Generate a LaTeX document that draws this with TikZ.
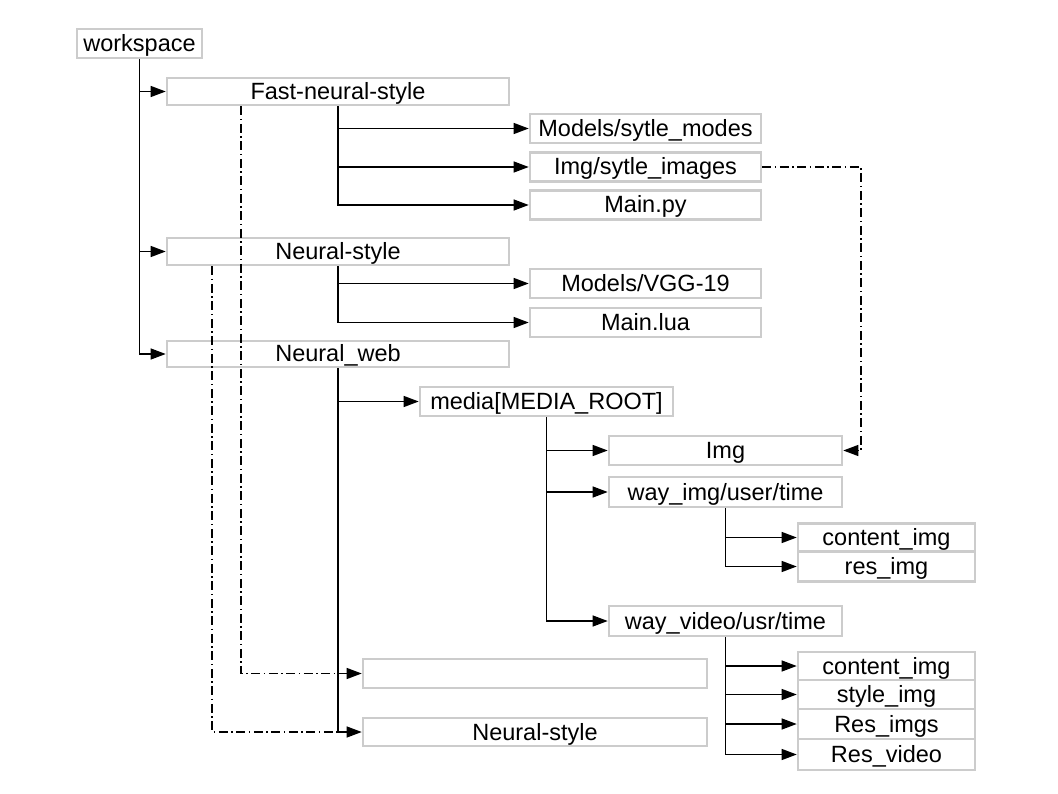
\documentclass[tikz,border=0pt]{standalone}
\usepackage{fontspec}
\setmainfont{Liberation Sans}
\usetikzlibrary{arrows.meta}
\begin{document}
\begin{tikzpicture}[x=1pt,y=-1pt,
  box/.style={draw=black!20, line width=2.6pt, fill=white, inner sep=0pt,
    text height=21pt, text depth=5pt,
    font=\fontsize{23.5}{28}\selectfont, text=black},
  conn/.style={draw=black, line width=1.2pt, -{Triangle[length=15pt,width=11pt]}},
  dd/.style={draw=black, line width=1.2pt, dash pattern=on 9pt off 3.5pt on 1.5pt off 3.5pt}]
\useasboundingbox (0,0) rectangle (1058,794);
\fill[white] (0,0) rectangle (1058,794);
% boxes
\node[box, minimum width=125pt, minimum height=29pt] (ws) at (139.5,43.5) {workspace};
\node[box, minimum width=342pt, minimum height=27pt] (fns) at (338,91.5) {Fast-neural-style};
\node[box, minimum width=231pt, minimum height=29pt] (mm) at (645.5,128.5) {Models/sytle\_modes};
\node[box, minimum width=231pt, minimum height=29pt] (imgs) at (645.5,167) {Img/sytle\_images};
\node[box, minimum width=231pt, minimum height=29pt] (mpy) at (645.5,205) {Main.py};
\node[box, minimum width=342pt, minimum height=27pt] (ns) at (338,251.5) {Neural-style};
\node[box, minimum width=231pt, minimum height=29pt] (vgg) at (645.5,283.5) {Models/VGG-19};
\node[box, minimum width=231pt, minimum height=29pt] (lua) at (645.5,322.5) {Main.lua};
\node[box, minimum width=342pt, minimum height=26pt] (nw) at (338,354) {Neural\_web};
\node[box, minimum width=253pt, minimum height=29pt] (media) at (546.5,401.5) {media[MEDIA\_ROOT]};
\node[box, minimum width=233pt, minimum height=29pt] (img) at (725.5,450.5) {Img};
\node[box, minimum width=233pt, minimum height=30pt] (wimg) at (725.5,492) {way\_img/user/time};
\node[box, minimum width=177pt, minimum height=28pt] (ci1) at (886.5,537.5) {content\_img};
\node[box, minimum width=177pt, minimum height=30pt] (ri) at (886.5,566.5) {res\_img};
\node[box, minimum width=233pt, minimum height=30pt] (wvid) at (725.5,621) {way\_video/usr/time};
\node[box, minimum width=344pt, minimum height=29pt] (empty) at (535,673.5) {};
\node[box, minimum width=344pt, minimum height=28pt] (ns2) at (535,732) {Neural-style};
\node[box, minimum width=177pt, minimum height=28pt] (ci2) at (886.5,666) {content\_img};
\node[box, minimum width=177pt, minimum height=29pt] (si) at (886.5,694.5) {style\_img};
\node[box, minimum width=177pt, minimum height=30pt] (rimgs) at (886.5,724) {Res\_imgs};
\node[box, minimum width=177pt, minimum height=31pt] (rvid) at (886.5,754.5) {Res\_video};
% helper coordinates
\coordinate (fx) at (241,0);
\coordinate (nx) at (212,0);
\coordinate (ix) at (861,0);
% dash-dot links
\draw[dd] (fns.south -| fx) |- (empty.west -| nw.south);
\draw[dd] (ns.south -| nx) |- (ns2.west -| nw.south);
\draw[dd, -{Triangle[length=15pt,width=11pt]}] (imgs.east) -| (img.east -| ix) -- (img.east);
% tree connectors: last child with trunk, others as branches
\draw[conn] (ws.south) |- (nw.west);
\draw[conn] (ws.south |- fns.west) -- (fns.west);
\draw[conn] (ws.south |- ns.west) -- (ns.west);
\draw[conn] (fns.south) |- (mpy.west);
\draw[conn] (fns.south |- mm.west) -- (mm.west);
\draw[conn] (fns.south |- imgs.west) -- (imgs.west);
\draw[conn] (ns.south) |- (lua.west);
\draw[conn] (ns.south |- vgg.west) -- (vgg.west);
\draw[conn] (nw.south) |- (ns2.west);
\draw[conn] (nw.south |- media.west) -- (media.west);
\draw[conn] (nw.south |- empty.west) -- (empty.west);
\draw[conn] (media.south) |- (wvid.west);
\draw[conn] (media.south |- img.west) -- (img.west);
\draw[conn] (media.south |- wimg.west) -- (wimg.west);
\draw[conn] (wimg.south) |- (ri.west);
\draw[conn] (wimg.south |- ci1.west) -- (ci1.west);
\draw[conn] (wvid.south) |- (rvid.west);
\draw[conn] (wvid.south |- ci2.west) -- (ci2.west);
\draw[conn] (wvid.south |- si.west) -- (si.west);
\draw[conn] (wvid.south |- rimgs.west) -- (rimgs.west);
\end{tikzpicture}
\end{document}
